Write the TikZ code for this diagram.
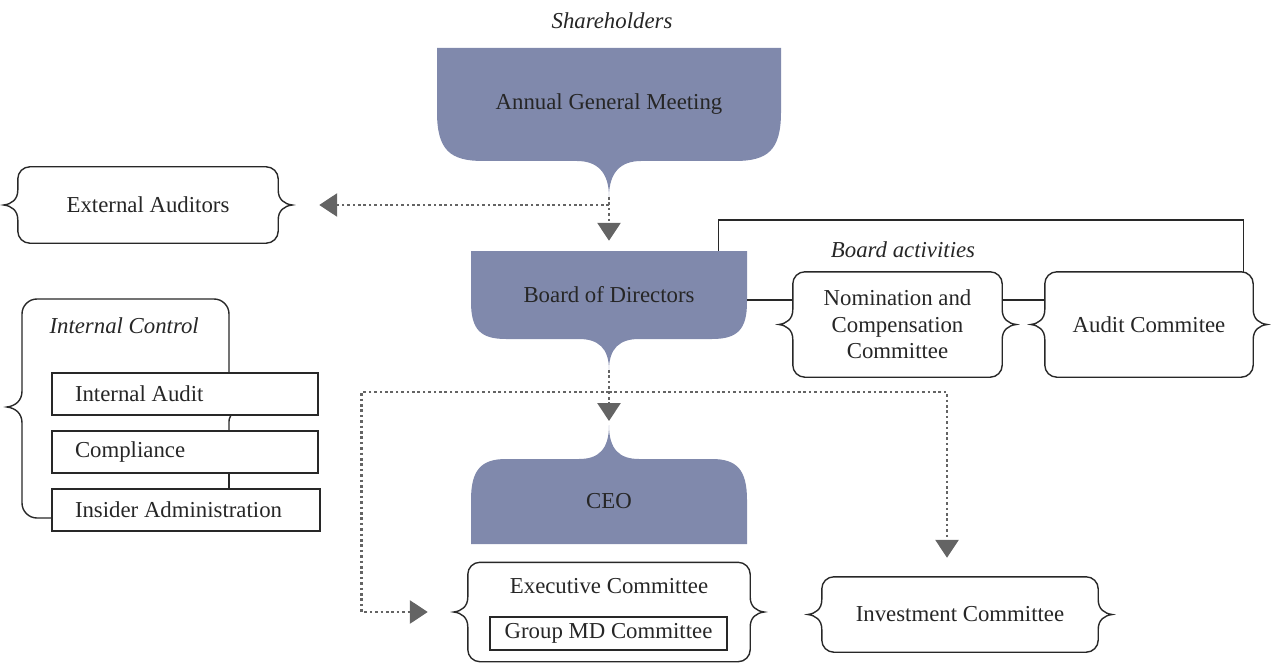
\documentclass[tikz,border=0pt]{standalone}
\usepackage{fontspec}
\setmainfont{Liberation Serif}
\usetikzlibrary{arrows.meta,calc}

\definecolor{govfill}{RGB}{128,137,172}
\definecolor{ink}{RGB}{38,38,38}
\definecolor{linkgray}{RGB}{100,100,100}
\definecolor{framegray}{RGB}{40,40,40}

% corner radius, brace reach and brace half-height of the committee frames
\def\bxr{12pt}
\def\bxp{14pt}
\def\bxq{15pt}

\tikzset{
  every node/.style={font=\fontsize{22.8}{26.5}\selectfont, text=ink},
  lead/.style={inner sep=0pt},
  organ/.style={fill=govfill, draw=none},
  frame/.style={draw=framegray, line width=1.4pt},
  rowbox/.style={frame, minimum height=42pt, inner xsep=23pt, inner ysep=0pt, align=flush left},
  linkdot/.style={draw=linkgray, line width=2.8pt, dash pattern=on 2.6pt off 2.8pt,
    -{Triangle[width=23pt,length=18pt,fill=linkgray]}},
  caption/.style={font=\fontsize{22.8}{26.5}\selectfont\itshape},
}

% rounded frame with a curly brace point on each side, around a node
\newcommand\braceframe[1]{%
  \draw[frame] let \p1=(#1.north west), \p2=(#1.south east), \p3=(#1.center) in
    (\x3,\y1) -- (\x2-\bxr,\y1)
    .. controls (\x2-0.45*\bxr,\y1) and (\x2,\y1-0.45*\bxr) .. (\x2,\y1-\bxr)
    -- (\x2,\y3+\bxq)
    .. controls (\x2,\y3+0.35*\bxq) and (\x2+0.45*\bxp,\y3+1pt) .. (\x2+\bxp,\y3)
    .. controls (\x2+0.45*\bxp,\y3-1pt) and (\x2,\y3-0.35*\bxq) .. (\x2,\y3-\bxq)
    -- (\x2,\y2+\bxr)
    .. controls (\x2,\y2+0.45*\bxr) and (\x2-0.45*\bxr,\y2) .. (\x2-\bxr,\y2)
    -- (\x1+\bxr,\y2)
    .. controls (\x1+0.45*\bxr,\y2) and (\x1,\y2+0.45*\bxr) .. (\x1,\y2+\bxr)
    -- (\x1,\y3-\bxq)
    .. controls (\x1,\y3-0.35*\bxq) and (\x1-0.45*\bxp,\y3-1pt) .. (\x1-\bxp,\y3)
    .. controls (\x1-0.45*\bxp,\y3+1pt) and (\x1,\y3+0.35*\bxq) .. (\x1,\y3+\bxq)
    -- (\x1,\y1-\bxr)
    .. controls (\x1,\y1-0.45*\bxr) and (\x1+0.45*\bxr,\y1) .. (\x1+\bxr,\y1)
    -- cycle;}

\begin{document}
\begin{tikzpicture}[x=1pt,y=-1pt]
\useasboundingbox (0,0) rectangle (1276,663);

% ---- governing bodies (brace-tailed shapes)
\fill[govfill] (437,48) -- (781,48) -- (781,112)
  .. controls (781,150) and (768,161) .. (735,161) -- (641,161)
  .. controls (621,161) and (609,172) .. (609,197)
  .. controls (609,172) and (597,161) .. (577,161) -- (483,161)
  .. controls (450,161) and (437,150) .. (437,112) -- cycle;
\fill[govfill] (471,251) -- (747,251) -- (747,302)
  .. controls (747,330) and (737,339) .. (712,339) -- (639,339)
  .. controls (620,339) and (609,348) .. (609,370)
  .. controls (609,348) and (598,339) .. (579,339) -- (506,339)
  .. controls (481,339) and (471,330) .. (471,302) -- cycle;
\fill[govfill] (471,544) -- (747,544) -- (747,500)
  .. controls (747,470) and (737,459) .. (712,459) -- (639,459)
  .. controls (620,459) and (609,450) .. (609,425)
  .. controls (609,450) and (598,459) .. (579,459) -- (506,459)
  .. controls (481,459) and (471,470) .. (471,500) -- cycle;

\coordinate (agmtip) at (609,197);
\coordinate (bodtip) at (609,370);
\coordinate (ceotip) at (609,425);

\node[caption] (share) at (612,21) {Shareholders};
\node[lead, minimum width=344pt, minimum height=113pt] (agm) at (609,104.5) {Annual General Meeting};
\node[lead, minimum width=276pt, minimum height=88pt] (bod) at (609,295) {Board of Directors};
\node[lead, minimum width=276pt, minimum height=85pt] (ceo) at (609,501.5) {CEO};

% ---- brace-framed committees
\node[lead, minimum width=260pt, minimum height=76pt] (ext) at (148,205) {External Auditors};
\node[lead, minimum width=209pt, minimum height=105pt, align=center] (nom) at (897.5,324.5)
  {Nomination and\\Compensation\\Committee};
\node[lead, minimum width=208pt, minimum height=105pt] (aud) at (1149,324.5) {Audit Commitee};
\node[lead, minimum width=282pt, minimum height=99pt] (exec) at (609,612) {};
\node[lead, minimum width=276pt, minimum height=75pt] (inv) at (960,614.5) {Investment Committee};
\braceframe{ext}
\braceframe{nom}
\braceframe{aud}
\braceframe{exec}
\braceframe{inv}
\node (exectitle) at (609,586) {Executive Committee};
\node[frame, minimum width=237pt, minimum height=33pt, inner sep=0pt] (gmd) at (608.5,633.5) {Group MD Committee};

\node[caption] (boardact) at (903,250) {Board activities};

% ---- internal control group
\node[rowbox, text width=220pt] (ia) at (185,394) {Internal Audit};
\node[rowbox, text width=220pt] (comp) at (185,452) {Compliance};
\node[rowbox, text width=222pt] (ins) at (186,510) {Insider Administration};
\node[caption, anchor=west] (ictitle) at (46,326) {Internal Control};
\draw[frame] (229,373) -- (229,314) .. controls (229,305.7) and (222.3,299) .. (214,299)
  -- (37,299) .. controls (28.7,299) and (22,305.7) .. (22,314)
  -- (22,391) .. controls (22,401) and (15,406) .. (7,407)
  .. controls (15,408) and (22,413) .. (22,423)
  -- (22,503) .. controls (22,511.3) and (28.7,518) .. (37,518) -- (ins.west |- 0,518);
\draw[frame] (231,415) .. controls (229,418) and (229,420) .. (229,424) -- (229,431);
\draw[frame] (229,473) -- (229,489);

% ---- reporting lines
\draw[linkdot] (agmtip) -- ($(bod.north)+(0,-10)$);
\draw[linkdot] (agmtip |- ext.east) -- ($(ext.east)+(41,0)$);
\draw[linkdot] (bodtip) -- ($(ceotip)+(0,-4)$);
\coordinate (split) at (609,392);
\draw[linkdot] (split) -| ($(exec.west)+(-106,0)$) -- ($(exec.west)+(-40,0)$);
\draw[linkdot] (split) -| ($(inv.north)+(-13,-19)$);

% ---- board activities
\draw[frame] ([yshift=-5pt]bod.east) -- ([yshift=-5pt]bod.east -| nom.west);
\draw[frame] ([yshift=-5pt]bod.east -| nom.east) -- ([yshift=-5pt]bod.east -| aud.west);
\draw[frame] ($(bod.north east)+(-29,0)$) |- ($(aud.north east)+(-10,-52)$) -- ($(aud.north east)+(-10,0)$);
\end{tikzpicture}
\end{document}
